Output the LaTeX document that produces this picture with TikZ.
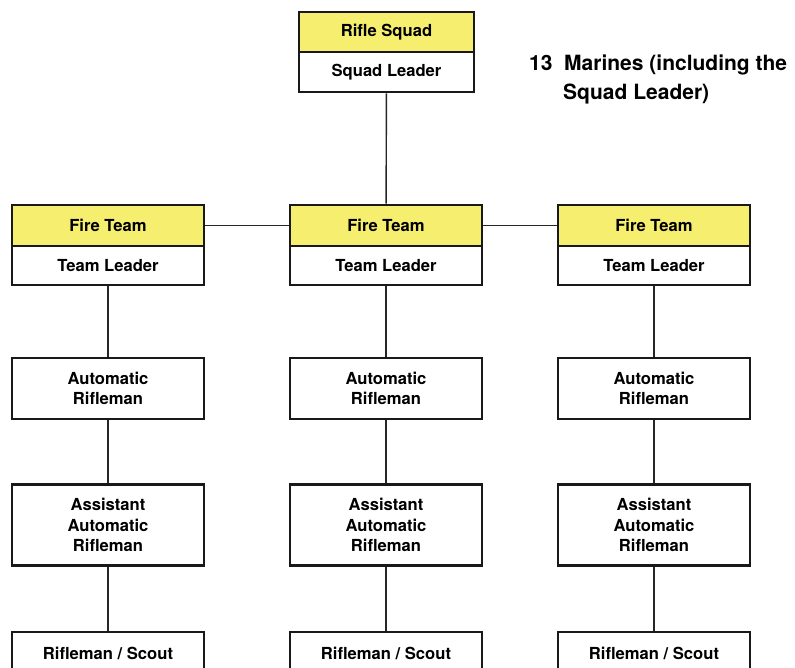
\documentclass[tikz,border=0pt]{standalone}
\usepackage{fontspec}
\setmainfont{TeX Gyre Heros}
\usepackage{xcolor}
\usepackage{tikz}

\definecolor{headyellow}{RGB}{245,238,110}

\begin{document}
\begin{tikzpicture}[
    x=1pt, y=-1pt,
    header/.style={
        rectangle,
        draw=black!90,
        fill=headyellow,
        minimum width=192pt,
        minimum height=41pt,
        line width=2.6pt,
        inner sep=0pt,
        font=\fontsize{16.6}{20}\selectfont\bfseries
    },
    member/.style={
        rectangle,
        draw=black!90,
        fill=white,
        minimum width=192pt,
        minimum height=39pt,
        line width=2.6pt,
        inner sep=0pt,
        align=center,
        font=\fontsize{16.6}{20.5}\selectfont\bfseries
    },
    link/.style={
        line width=1.4pt,
        draw=black!85
    }
]
\useasboundingbox (0,0) rectangle (795,668);

% Squad
\node[header, minimum width=175pt, minimum height=40pt] (squad) at (386.5,32) {Rifle Squad};
\node[member, minimum width=175pt, minimum height=40pt] (squadleader) at (386.5,72) {Squad Leader};

% Fire teams
\foreach \col/\cx in {left/108, mid/386, right/654}{
    \node[header] (team\col) at (\cx,225.5) {Fire Team};
    \node[member] (leader\col) at (\cx,265.5) {Team Leader};
    \node[member, minimum height=61pt] (ar\col) at (\cx,388.5) {Automatic\\Rifleman};
    \node[member, minimum height=81pt] (aar\col) at (\cx,525) {Assistant\\Automatic\\Rifleman};
    \node[member, minimum height=42pt] (scout\col) at (\cx,653) {Rifleman / Scout};
}

% Connectors
\draw[link] (squadleader) -- (teammid);
\draw[link] (teamleft) -- (teammid);
\draw[link] (teammid) -- (teamright);
\foreach \col in {left, mid, right}{
    \draw[link] (leader\col) -- (ar\col);
    \draw[link] (ar\col) -- (aar\col);
    \draw[link] (aar\col) -- (scout\col);
}

% Squad size note
\node[anchor=north west, align=left, font=\fontsize{21}{29}\selectfont\bfseries, inner sep=0pt] (note) at (529,55)
    {13\ \ Marines (including the\\\hspace{34pt}Squad Leader)};

\end{tikzpicture}
\end{document}
